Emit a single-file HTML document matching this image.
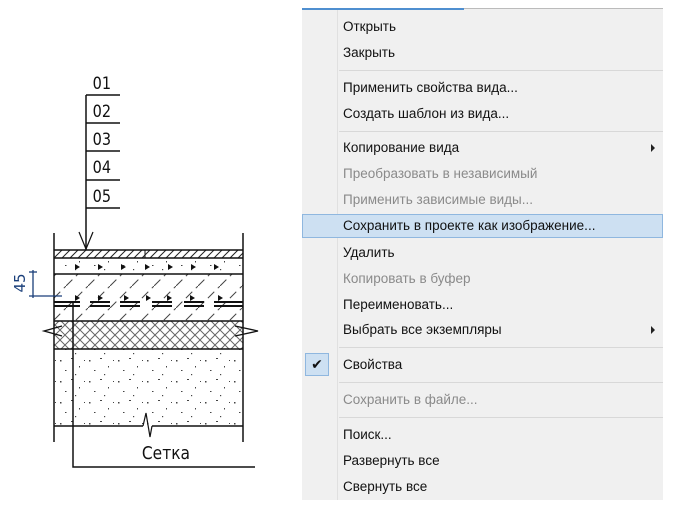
<!DOCTYPE html>
<html><head><meta charset="utf-8"><style>
html,body{margin:0;padding:0;background:#fff;width:677px;height:505px;overflow:hidden;position:relative;font-family:"Liberation Sans","DejaVu Sans",sans-serif}
#menu{position:absolute;left:302px;top:8px;width:361px;height:492px;background:#f0f0f0}
#menu .top1{position:absolute;left:0;top:0;width:162px;height:2px;background:#4f8fd0}
#menu .top2{position:absolute;left:162px;top:0;width:199px;height:1px;background:#bbb}
#menu .gut{position:absolute;left:35px;top:2px;width:1px;height:490px;background:#e0e0e0}
.it{position:absolute;left:41px;font-size:13.5px;color:#111;white-space:nowrap;line-height:16px}
.dis{color:#8a8a8a}
.sep{position:absolute;left:37px;right:0;height:1px;background:#d8d8d8}
.arr{position:absolute;right:8px;width:0;height:0;border-left:4px solid #222;border-top:4px solid transparent;border-bottom:4px solid transparent}
</style></head><body>
<svg width="300" height="505" style="position:absolute;left:0;top:0" xmlns="http://www.w3.org/2000/svg">
<defs>
<pattern id="h1" width="8" height="8" patternUnits="userSpaceOnUse"><path d="M0 8L8 0M-2 2L2 -2M6 10L10 6" stroke="#222" stroke-width="1"/></pattern>
<pattern id="h2" width="22" height="22" patternUnits="userSpaceOnUse"><path d="M0 22L22 0" stroke="#444" stroke-width="1" stroke-dasharray="9 5"/></pattern>
<pattern id="x" width="10" height="10" patternUnits="userSpaceOnUse"><path d="M0 10L10 0M0 0L10 10" stroke="#666" stroke-width="1"/></pattern>
<pattern id="d" width="29" height="21" patternUnits="userSpaceOnUse"><g fill="#444"><rect x="2" y="3" width="1.5" height="1.5"/><rect x="13" y="1" width="2" height="1"/><rect x="21" y="9" width="1" height="1.5"/><rect x="7" y="13" width="1.5" height="1"/><rect x="17" y="17" width="1.2" height="1.2"/><rect x="26" y="3" width="1" height="1"/></g></pattern>
</defs>
<g stroke="#111" stroke-width="1.5" fill="none">
<line x1="86" y1="95" x2="86" y2="250"/>
<line x1="86" y1="95" x2="120" y2="95"/><line x1="86" y1="123" x2="120" y2="123"/><line x1="86" y1="151" x2="120" y2="151"/><line x1="86" y1="180" x2="120" y2="180"/><line x1="86" y1="208" x2="120" y2="208"/>
<path d="M79 232L86 249L93 232" stroke-width="1.2"/>
</g>
<g font-family="DejaVu Sans,sans-serif" font-size="17" fill="#111" transform="scale(0.85,1)">
<text x="109" y="89">01</text><text x="109" y="117">02</text><text x="109" y="145">03</text><text x="109" y="173">04</text><text x="109" y="202">05</text>
</g>
<rect x="54" y="250" width="189" height="8" fill="url(#h1)"/>
<rect x="54" y="258" width="189" height="16" fill="url(#d)"/>
<rect x="54" y="274" width="189" height="47" fill="url(#h2)"/>
<rect x="54" y="321" width="189" height="28" fill="url(#x)"/>
<rect x="54" y="349" width="189" height="77" fill="url(#d)"/>
<g stroke="#111" stroke-width="1.5" fill="none">
<line x1="54" y1="233" x2="54" y2="442"/><line x1="243" y1="233" x2="243" y2="442"/>
<line x1="54" y1="250" x2="243" y2="250"/><line x1="54" y1="258" x2="243" y2="258"/>
<line x1="54" y1="274" x2="243" y2="274"/><line x1="54" y1="321" x2="243" y2="321"/><line x1="54" y1="349" x2="243" y2="349"/>
<line x1="54" y1="426" x2="143" y2="426"/><line x1="152" y1="426" x2="243" y2="426"/>
<path d="M143 426L146 413L150 437L152 426" stroke-width="1.2"/>
<line x1="145" y1="250" x2="145" y2="258" stroke-width="1"/>
<g stroke-width="2"><path d="M54 302H80M90 302H110M120 302H140M152 302H172M184 302H204M214 302H243"/><path d="M54 306H80M90 306H110M120 306H140M152 306H172M184 306H204M214 306H243"/></g>
<path d="M62 326L44 331L62 336" stroke-width="1.3"/><path d="M235 326L258 331L235 336" stroke-width="1.3"/>
<path d="M73 303V467H255"/>
</g>
<g fill="#111">
<path d="M75 264l5 3l-5 3z"/><path d="M98 264l5 3l-5 3z"/><path d="M121 264l5 3l-5 3z"/><path d="M145 264l5 3l-5 3z"/><path d="M168 264l5 3l-5 3z"/><path d="M191 264l5 3l-5 3z"/><path d="M214 264l5 3l-5 3z"/>
<path d="M75 295l5 3l-5 3z"/><path d="M98 295l5 3l-5 3z"/><path d="M124 295l5 3l-5 3z"/><path d="M146 295l5 3l-5 3z"/><path d="M167 295l5 3l-5 3z"/><path d="M190 295l5 3l-5 3z"/><path d="M218 295l5 3l-5 3z"/>
</g>
<text x="165" y="459" font-family="DejaVu Sans,sans-serif" font-size="18" fill="#111" transform="scale(0.86,1)">Сетка</text>
<g stroke="#1a3f7a" stroke-width="1.3" fill="none">
<line x1="33" y1="270" x2="33" y2="298"/><line x1="29" y1="296" x2="62" y2="296"/>
<line x1="29" y1="272" x2="37" y2="272"/>
</g>
<text transform="translate(25,283) rotate(-90)" text-anchor="middle" font-family="DejaVu Sans,sans-serif" font-size="15" fill="#1a3f7a">45</text>
</svg>
<div id="menu">
<div class="top1"></div><div class="top2"></div><div class="gut"></div>
<div class="it" style="top:11px">Открыть</div>
<div class="it" style="top:37px">Закрыть</div>
<div class="sep" style="top:62px"></div>
<div class="it" style="top:72px">Применить свойства вида...</div>
<div class="it" style="top:98px">Создать шаблон из вида...</div>
<div class="sep" style="top:123px"></div>
<div class="it" style="top:132px">Копирование вида</div><div class="arr" style="top:136px"></div>
<div class="it dis" style="top:158px">Преобразовать в независимый</div>
<div class="it dis" style="top:184px">Применить зависимые виды...</div>
<div style="position:absolute;left:0;right:0;top:206px;height:24px;background:#cde0f2;border:1px solid #8fb7df;box-sizing:border-box"></div>
<div class="it" style="top:210px">Сохранить в проекте как изображение...</div>
<div class="it" style="top:237px">Удалить</div>
<div class="it dis" style="top:263px">Копировать в буфер</div>
<div class="it" style="top:289px">Переименовать...</div>
<div class="it" style="top:314px">Выбрать все экземпляры</div><div class="arr" style="top:318px"></div>
<div class="sep" style="top:339px"></div>
<div style="position:absolute;left:3px;top:345px;width:24px;height:23px;background:#cde0f2;border:1px solid #8fb7df;box-sizing:border-box;font-size:14px;text-align:center;line-height:21px;color:#111">✔</div>
<div class="it" style="top:349px">Свойства</div>
<div class="sep" style="top:374px"></div>
<div class="it dis" style="top:384px">Сохранить в файле...</div>
<div class="sep" style="top:409px"></div>
<div class="it" style="top:419px">Поиск...</div>
<div class="it" style="top:445px">Развернуть все</div>
<div class="it" style="top:471px">Свернуть все</div>
</div>
</body></html>
